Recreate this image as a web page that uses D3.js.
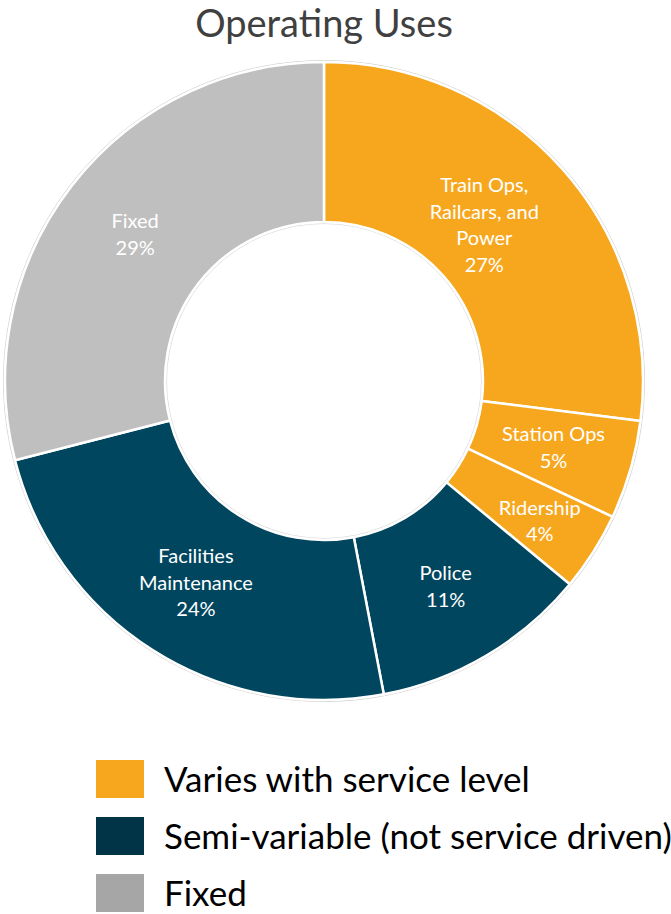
<!DOCTYPE html>
<html>
<head>
<meta charset="utf-8">
<script src="https://cdn.jsdelivr.net/npm/d3@7"></script>
<style>
  html, body { margin: 0; padding: 0; background: #fff; }
  svg { display: block; font-family: Lato, "Open Sans", sans-serif; }
</style>
</head>
<body>
<svg id="chart" width="671" height="914"></svg>
<script>
// Slice data, clockwise from 12 o'clock
const categories = ['Train Ops, Railcars, and Power', 'Station Ops', 'Ridership', 'Police', 'Facilities Maintenance', 'Fixed'];
const labelLines = [['Train Ops,', 'Railcars, and', 'Power'], ['Station Ops'], ['Ridership'], ['Police'], ['Facilities', 'Maintenance'], ['Fixed']];
const shares = [27, 5, 4, 11, 24, 29];
const groups = ['varies', 'varies', 'varies', 'semi', 'semi', 'fixed'];

// Legend
const legendKeys = ['varies', 'semi', 'fixed'];
const legendLabels = ['Varies with service level', 'Semi-variable (not service driven)', 'Fixed'];

const title = 'Operating Uses';

const sliceColor = d3.scaleOrdinal().domain(legendKeys).range(['#F7A71E', '#00465F', '#BFBFBF']);
const swatchColor = d3.scaleOrdinal().domain(legendKeys).range(['#F7A71E', '#023447', '#A6A6A6']);

const svg = d3.select('#chart');
const cx = 324, cy = 381, outerR = 319, innerR = 159;

svg.append('text')
    .attr('x', 324).attr('y', 37)
    .attr('text-anchor', 'middle')
    .attr('fill', '#404040')
    .style('font-size', '38px')
    .text(title);

const pie = d3.pie().sort(null).value((d) => d.value);
const arc = d3.arc().innerRadius(innerR).outerRadius(outerR);
const slices = pie(shares.map((value, i) => ({ value, i })));

const g = svg.append('g').attr('transform', `translate(${cx},${cy})`);

// faint outline rings like the original render
g.append('circle').attr('r', outerR + 1.5).attr('fill', 'none').attr('stroke', '#d4d4d4').attr('stroke-width', 1);
g.append('circle').attr('r', innerR - 1.5).attr('fill', 'none').attr('stroke', '#dedede').attr('stroke-width', 1);

g.selectAll('path.slice')
    .data(slices)
    .join('path')
    .attr('class', 'slice')
    .attr('d', arc)
    .attr('fill', (d) => sliceColor(groups[d.data.i]))
    .attr('stroke', '#fff')
    .attr('stroke-width', 2.5)
    .attr('stroke-linejoin', 'round');

// PowerPoint shifted a couple of labels to fit
const nudge = { 0: [-19, 2], 2: [14, 12] };
const lineH = 26.7;

const labels = g.selectAll('text.lbl')
    .data(slices)
    .join('text')
    .attr('class', 'lbl')
    .attr('text-anchor', 'middle')
    .attr('fill', '#fff')
    .style('font-size', '20px')
    .attr('transform', (d) => {
        const [x, y] = arc.centroid(d);
        const [dx, dy] = nudge[d.data.i] || [0, 0];
        return `translate(${x + dx},${y + dy})`;
    });

labels.each(function (d) {
    const lines = labelLines[d.data.i].concat([`${d.data.value}%`]);
    const n = lines.length;
    d3.select(this).selectAll('tspan')
        .data(lines)
        .join('tspan')
        .attr('x', 0)
        .attr('y', (t, k) => (k - (n - 1) / 2) * lineH + 7)
        .text((t) => t);
});

// Legend
const legend = svg.append('g');
const rowY = d3.scalePoint().domain(legendKeys).range([779, 893]);

legend.selectAll('rect')
    .data(legendKeys)
    .join('rect')
    .attr('x', 96)
    .attr('y', (k) => rowY(k) - 19)
    .attr('width', 48)
    .attr('height', 38)
    .attr('fill', (k) => swatchColor(k));

legend.selectAll('text')
    .data(legendKeys)
    .join('text')
    .attr('x', 164)
    .attr('y', (k) => rowY(k) + 13)
    .attr('fill', '#000')
    .style('font-size', '35px')
    .text((k, i) => legendLabels[i]);
</script>
</body>
</html>
